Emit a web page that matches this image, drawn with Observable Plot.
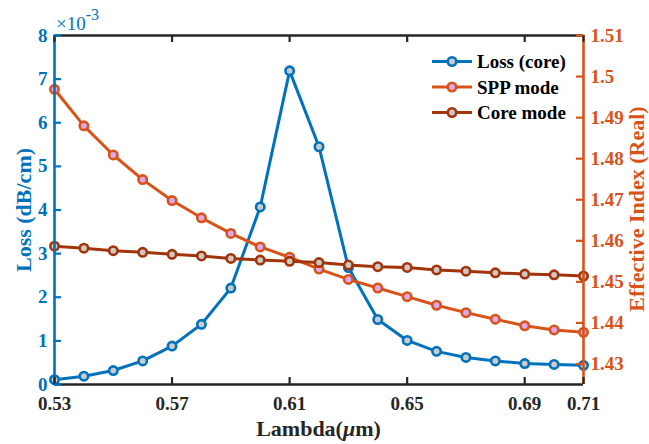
<!DOCTYPE html>
<html><head><meta charset="utf-8">
<script src="https://cdn.jsdelivr.net/npm/d3@7"></script>
<script src="https://cdn.jsdelivr.net/npm/@observablehq/plot@0.6"></script>
<style>body{margin:0;background:#fff} #chart{position:relative;width:649px;height:444px}</style>
</head><body><div id="chart"></div>
<script>
// wavelength (µm)
const lambda = [0.53,0.54,0.55,0.56,0.57,0.58,0.59,0.60,0.61,0.62,0.63,0.64,0.65,0.66,0.67,0.68,0.69,0.70,0.71];
// Loss (core), units of 1e-3 dB/cm
const lossCore = [0.11,0.19,0.32,0.54,0.88,1.38,2.21,4.07,7.19,5.45,2.68,1.49,1.01,0.76,0.62,0.54,0.48,0.46,0.44];
// Effective index (real)
const sppMode = [1.4969,1.4880,1.4809,1.4749,1.4698,1.4656,1.4618,1.4585,1.4560,1.4531,1.4506,1.4485,1.4464,1.4443,1.4425,1.4409,1.4393,1.4383,1.4377];
const coreMode = [1.4587,1.4582,1.4576,1.4572,1.4567,1.4563,1.4557,1.4553,1.4550,1.4547,1.4541,1.4537,1.4535,1.4529,1.4526,1.4522,1.4519,1.4517,1.4514];
// tick values
const xTicks = [0.53,0.57,0.61,0.65,0.69,0.71];
const leftTicks = [0,1,2,3,4,5,6,7,8];
const rightTicks = [1.43,1.44,1.45,1.46,1.47,1.48,1.49,1.50,1.51];
const seriesNames = ["Loss (core)","SPP mode","Core mode"];

const BLUE="#0072BD", ORANGE="#D95319", BROWN="#A2340B", AXIS="#262626";
const GRAY="#cbcbcb", PINK="#dca8ee", GRAY2="#cfc8c2";
const W=649,H=444,mL=54,mR=66,mT=35,mB=60;
const innerW=W-mL-mR, innerH=H-mT-mB;
const leftDomain=[0,8], rightDomain=[1.425,1.51];
const toLeft = v => (v-rightDomain[0])/(rightDomain[1]-rightDomain[0])*(leftDomain[1]-leftDomain[0])+leftDomain[0];
const fromLeft = y => rightDomain[0] + (y-leftDomain[0])/(leftDomain[1]-leftDomain[0])*(rightDomain[1]-rightDomain[0]);
const rows = lambda.map((x,i)=>({x, loss:lossCore[i], spp:toLeft(sppMode[i]), core:toLeft(coreMode[i])}));
const font = "'Liberation Serif','Times New Roman',serif";
const tk = 7, TF = 19;

const plot = Plot.plot({
  width:W,height:H,marginLeft:mL,marginRight:mR,marginTop:mT,marginBottom:mB,
  x:{domain:[0.53,0.71]}, y:{domain:leftDomain},
  style:{fontFamily:font, background:"white", overflow:"visible"},
  marks:[
    Plot.line(rows,{x:"x",y:"loss",stroke:BLUE,strokeWidth:3}),
    Plot.dot(rows,{x:"x",y:"loss",r:4.2,stroke:BLUE,strokeWidth:2.6,fill:GRAY}),
    Plot.line(rows,{x:"x",y:"spp",stroke:ORANGE,strokeWidth:3}),
    Plot.dot(rows,{x:"x",y:"spp",r:4.2,stroke:ORANGE,strokeWidth:2.6,fill:PINK}),
    Plot.line(rows,{x:"x",y:"core",stroke:BROWN,strokeWidth:3}),
    Plot.dot(rows,{x:"x",y:"core",r:4.2,stroke:BROWN,strokeWidth:2.6,fill:GRAY2}),
    // frame
    Plot.ruleY([leftDomain[0]],{stroke:AXIS,strokeWidth:2.6}),
    Plot.ruleY([leftDomain[1]],{stroke:AXIS,strokeWidth:2.6}),
    Plot.ruleX([0.53],{stroke:BLUE,strokeWidth:2.6}),
    Plot.ruleX([0.71],{stroke:ORANGE,strokeWidth:2.6}),
    // inward ticks
    Plot.tickX(xTicks,{x:d=>d,insetTop:innerH-tk,stroke:AXIS,strokeWidth:2.2}),
    Plot.tickX(xTicks,{x:d=>d,insetBottom:innerH-tk,stroke:AXIS,strokeWidth:2.2}),
    Plot.tickY(leftTicks,{y:d=>d,insetRight:innerW-tk,stroke:BLUE,strokeWidth:2.2}),
    Plot.tickY(rightTicks.map(toLeft),{y:d=>d,insetLeft:innerW-tk,stroke:ORANGE,strokeWidth:2.2}),
    // tick labels
    Plot.axisX(xTicks,{anchor:"bottom",tickSize:0,tickPadding:12,fontSize:TF,fontWeight:"bold",color:AXIS,tickFormat:d=>d.toFixed(2),label:null}),
    Plot.axisY(leftTicks,{anchor:"left",tickSize:0,tickPadding:7,fontSize:TF,fontWeight:"bold",color:BLUE,tickFormat:d=>String(d),label:null}),
    Plot.axisY(rightTicks.map(toLeft),{anchor:"right",tickSize:0,tickPadding:7,fontSize:TF,fontWeight:"bold",color:ORANGE,tickFormat:d=>String(+fromLeft(d).toFixed(2)),label:null})
  ]
});
document.getElementById("chart").appendChild(plot);

// annotations: axis titles, exponent, legend
const svg = d3.select(plot);
const g = svg.append("g").attr("font-family",font);
g.append("text").attr("x",318.5).attr("y",436).attr("text-anchor","middle")
  .attr("font-size",22).attr("font-weight","bold").attr("fill",AXIS)
  .html('Lambda(<tspan font-style="italic">μ</tspan>m)');
g.append("text").attr("transform","translate(31,210) rotate(-90)").attr("text-anchor","middle")
  .attr("font-size",22).attr("font-weight","bold").attr("fill",BLUE).text("Loss (dB/cm)");
g.append("text").attr("transform","translate(644,209) rotate(-90)").attr("text-anchor","middle")
  .attr("font-size",22).attr("font-weight","bold").attr("fill",ORANGE).text("Effective Index (Real)");
const ex = g.append("text").attr("x",56).attr("y",30).attr("text-anchor","start").attr("font-size",19).attr("fill",BLUE);
ex.append("tspan").text("×10");
ex.append("tspan").attr("dy",-10).attr("font-size",16).text("-3");

const legColors=[BLUE,ORANGE,BROWN], legFills=[GRAY,PINK,GRAY2];
seriesNames.forEach((name,i)=>{
  const y = 61.5 + i*25.5;
  g.append("line").attr("x1",432).attr("x2",472).attr("y1",y).attr("y2",y).attr("stroke",legColors[i]).attr("stroke-width",3);
  g.append("circle").attr("cx",452).attr("cy",y).attr("r",4.2).attr("stroke",legColors[i]).attr("stroke-width",2.6).attr("fill",legFills[i]);
  g.append("text").attr("x",477).attr("y",y+6.5).attr("text-anchor","start").attr("font-size",19).attr("font-weight","bold").attr("fill","#000").text(name);
});
</script></body></html>
